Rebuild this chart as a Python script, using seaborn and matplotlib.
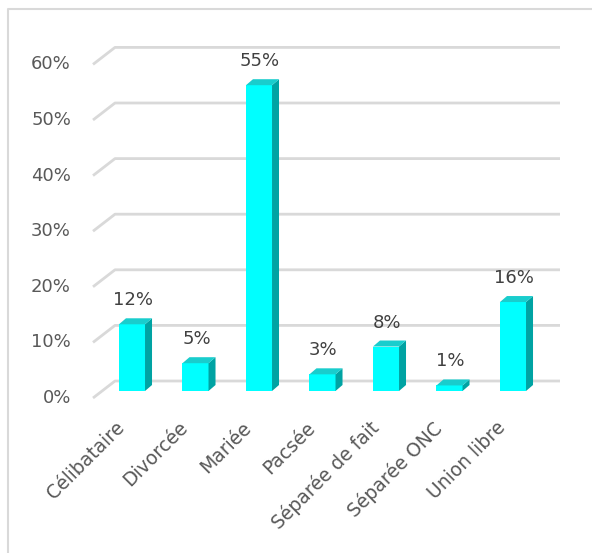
"""Répartition par situation familiale - barres 3D façon Excel."""

import matplotlib

matplotlib.use("Agg", force=True)
import matplotlib.pyplot as plt
import pandas as pd
import seaborn as sns
from matplotlib.lines import Line2D
from matplotlib.patches import Polygon

categories = ["Célibataire", "Divorcée", "Mariée", "Pacsée", "Séparée de fait", "Séparée ONC", "Union libre"]
values = [0.12, 0.05, 0.55, 0.03, 0.08, 0.01, 0.16]
value_labels = ["12%", "5%", "55%", "3%", "8%", "1%", "16%"]
y_ticks = [0.0, 0.1, 0.2, 0.3, 0.4, 0.5, 0.6]
y_tick_labels = ["0%", "10%", "20%", "30%", "40%", "50%", "60%"]

FRONT = "#00FFFF"
SIDE = "#00A3A3"
TOP = "#19CDCD"
GRID = "#D9D9D9"
AXIS_TXT = "#595959"
LABEL_TXT = "#404040"

# pixel scale of the data axes (used to turn pixel offsets into data offsets)
PX_X = 63.5   # px per category
PX_Y = 556.0  # px per 100 %

sns.set_theme(style="white")
plt.rcParams["font.family"] = ["DejaVu Sans"]

fig = plt.figure(figsize=(5.92, 5.53), dpi=100)
ax = fig.add_axes([68.5 / 592, (553 - 446.6) / 553, 508 / 592, 444.8 / 553])

# chart border (only top and left edges are visible in the crop)
bx = 7.5 / 592
by = (553 - 9) / 553
fig.lines.append(Line2D([bx, bx, 1.05], [-0.05, by, by], transform=fig.transFigure,
                        color="#D9D9D9", linewidth=1.5))

# gridlines: back wall + diagonal floor edge on the left
front_x = (93 - 132) / PX_X
back_x = (115 - 132) / PX_X
end_x = (560 - 132) / PX_X
front_dy = -7 / PX_Y
back_dy = 10 / PX_Y
for v, lab in zip(y_ticks, y_tick_labels):
    ax.plot([front_x, back_x, end_x], [v + front_dy, v + back_dy, v + back_dy],
            color=GRID, linewidth=2, solid_capstyle="butt", zorder=1)
    ax.text((71 - 132) / PX_X, v + front_dy, lab, ha="right", va="center",
            fontsize=13, color=AXIS_TXT)

df = pd.DataFrame({"cat": categories, "val": values})
sns.barplot(data=df, x="cat", y="val", color=FRONT, width=0.41, saturation=1,
            linewidth=0, ax=ax, zorder=3)
ax.set_xlim(-1.0, 7.0)
ax.set_ylim(-0.1, 0.7)
ax.axis("off")

ddx = 7 / PX_X
ddy = 6 / PX_Y
for bar in list(ax.patches):
    x0 = bar.get_x()
    w = bar.get_width()
    h = bar.get_height()
    top = [(x0, h), (x0 + ddx, h + ddy), (x0 + w + ddx, h + ddy), (x0 + w, h)]
    side = [(x0 + w, 0), (x0 + w, h), (x0 + w + ddx, h + ddy), (x0 + w + ddx, ddy)]
    ax.add_patch(Polygon(side, closed=True, facecolor=SIDE, edgecolor="none", zorder=3))
    ax.add_patch(Polygon(top, closed=True, facecolor=TOP, edgecolor="none", zorder=3))

for i, (v, lab) in enumerate(zip(values, value_labels)):
    ax.text(i + 1 / PX_X, v + 24 / PX_Y, lab, ha="center", va="center",
            fontsize=13, color=LABEL_TXT)
    ax.text(i - 17 / PX_X, -27 / PX_Y, categories[i], ha="right", va="top",
            rotation=45, rotation_mode="anchor", fontsize=13.5, color=AXIS_TXT)

fig.savefig("out.png", dpi=100, facecolor="white")
plt.close(fig)
